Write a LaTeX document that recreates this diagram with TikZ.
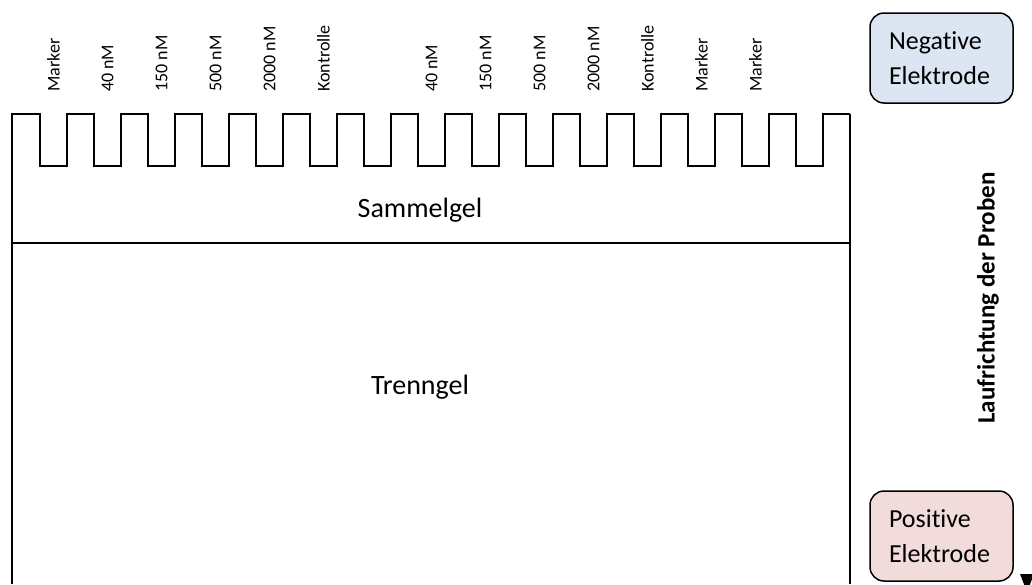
\documentclass[tikz,border=0pt]{standalone}
\usepackage{fontspec}
\setmainfont{Carlito}[Ligatures=NoCommon]
\usepackage{tikz}
\usetikzlibrary{positioning, arrows.meta}

\definecolor{negblue}{HTML}{DCE6F2}
\definecolor{pospink}{HTML}{F2DCDB}

\tikzset{
    gel/.style={line width=2pt},
    lane/.style={rotate=90, anchor=west, inner sep=0pt, font=\fontsize{18}{20}\selectfont},
    electrode/.style={draw, line width=1.5pt, rounded corners=14pt, minimum width=143pt,
        minimum height=90pt, text width=105pt, align=left, inner sep=0pt,
        font=\fontsize{26}{35}\selectfont},
}

\begin{document}
\begin{tikzpicture}[x=1pt, y=-1pt]
            \useasboundingbox (0,0) rectangle (1032,584);

            % comb and gel
            \draw[gel] (12,584) -- (12,114) -- (40,114)
                \foreach \k in {0,...,14} {
                    -- ++(0,52) -- ++(27,0) -- ++(0,-52) -- ++(27,0)
                } coordinate (topright);
            \draw[gel] (topright) -- (topright |- 0,584);
            \coordinate (split1) at (12,243);
            \coordinate (split2) at (topright |- 0,243);
            \draw[gel] (split1) -- (split2);

            \foreach \k/\lbl in {0/Marker, 1/40 nM, 2/150 nM, 3/500 nM, 4/2000 nM, 5/Kontrolle,
                                 7/40 nM, 8/150 nM, 9/500 nM, 10/2000 nM, 11/Kontrolle,
                                 12/Marker, 13/Marker}
                \node[lane] (lane\k) at (53.5+54*\k, 92) {\lbl};

            \node[font=\fontsize{28}{30}\selectfont] (sammel) at (420,210) {Sammelgel};
            \node[font=\fontsize{28}{30}\selectfont] (trenn) at (420,387) {Trenngel};

            % electrodes
            \node[electrode, fill=negblue] (neg) at (941.5,58) {Negative\\Elektrode};
            \node[electrode, fill=pospink] (pos) at (941.5,536) {Positive\\Elektrode};
            \node[rotate=90, font=\bfseries\fontsize{25}{27}\selectfont] (dir) at (988,298)
                {Laufrichtung der Proben};

            \coordinate (tip) at (1027,592);
            \fill (1020,574) -- (1034,574) -- (tip) -- cycle;
        \end{tikzpicture}
\end{document}
